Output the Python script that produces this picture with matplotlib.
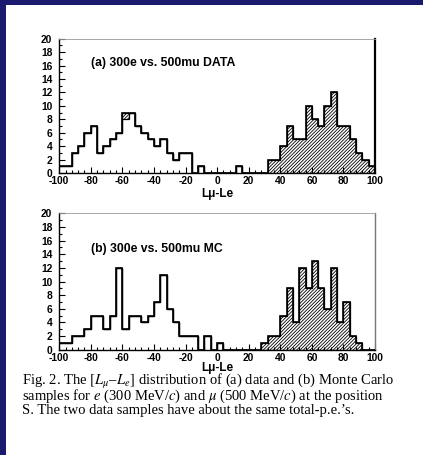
import numpy as np
import matplotlib.pyplot as plt
from matplotlib.patches import Rectangle
from matplotlib.ticker import MultipleLocator

plt.rcParams['font.family'] = 'Liberation Sans'
plt.rcParams['mathtext.fontset'] = 'stix'
plt.rcParams['hatch.linewidth'] = 0.6
plt.rcParams['axes.unicode_minus'] = False

# 50 bins of width 4 over [-100, 100]
edges = np.arange(-100, 101, 4)

# (a) data: e (open) and mu (hatched, stacked on e)
e_data = [1, 1, 3, 4, 6, 7, 3, 4, 5, 6,
          8, 9, 7, 6, 5, 4, 5, 3, 2, 3,
          3, 0, 1, 0, 0, 0, 0, 0, 1, 0,
          0, 0, 0, 0, 0, 0, 0, 0, 0, 0,
          0, 0, 0, 0, 0, 0, 0, 0, 0, 0]
mu_data = [0, 0, 0, 0, 0, 0, 0, 0, 0, 0,
           1, 0, 0, 0, 0, 0, 0, 0, 0, 0,
           0, 0, 0, 0, 0, 0, 0, 0, 0, 0,
           0, 0, 0, 2, 2, 4, 7, 5, 5, 10,
           8, 7, 10, 12, 7, 7, 5, 3, 2, 1]

# (b) Monte Carlo
e_mc = [1, 1, 2, 2, 3, 5, 5, 3, 5, 12,
        3, 5, 5, 4, 5, 7, 11, 6, 4, 2,
        2, 2, 0, 2, 0, 1, 0, 0, 0, 0,
        0, 0, 0, 0, 0, 0, 0, 0, 0, 0,
        0, 0, 0, 0, 0, 0, 0, 0, 0, 0]
mu_mc = [0, 0, 0, 0, 0, 0, 0, 0, 0, 0,
         0, 0, 0, 0, 0, 0, 0, 0, 0, 0,
         0, 0, 0, 0, 0, 0, 0, 0, 0, 0,
         0, 0, 1, 2, 2, 5, 9, 4, 12, 9,
         13, 9, 6, 12, 4, 7, 2, 1, 0, 0]

panel_labels = ['(a) 300e vs. 500mu DATA', '(b) 300e vs. 500mu MC']
xlabel = 'L\u03bc-Le'

caption = ["Fig. 2. The $[L_{\\mu}$\u2013$L_e]$ distribution of (a) data and (b) Monte Carlo",
           "samples for $e$ (300 MeV/$c$) and $\\mu$ (500 MeV/$c$) at the position",
           "S. The two data samples have about the same total-p.e.\u2019s."]

fig = plt.figure(figsize=(4.23, 4.55), dpi=100)
fig.patch.set_facecolor('#1a1a6e')
fig.add_artist(Rectangle((5.5 / 423, 0), 1, 1 - 5 / 455, transform=fig.transFigure,
                         facecolor='white', edgecolor='none', zorder=0))

positions = [[0.140, 0.6198, 0.7465, 0.2952],
             [0.140, 0.2314, 0.7465, 0.2998]]
label_y = [16.4, 14.7]
xlabel_y = [-0.155, -0.135]
right_spine = [('black', 1.6), ('#777777', 1.0)]

for k, (e, mu) in enumerate([(e_data, mu_data), (e_mc, mu_mc)]):
    ax = fig.add_axes(positions[k])
    e = np.array(e)
    mu = np.array(mu)
    ax.stairs(e + mu, edges, baseline=e, fill=True, facecolor='white',
              edgecolor='black', hatch='//////////', lw=0.9)
    ax.stairs(e + mu, edges, baseline=0, color='black', lw=1.2)

    ax.set_xlim(-100, 100)
    ax.set_ylim(0, 20)
    ax.set_xticks(np.arange(-100, 101, 20))
    ax.set_yticks(np.arange(0, 21, 2))
    ax.xaxis.set_minor_locator(MultipleLocator(4))
    ax.yaxis.set_minor_locator(MultipleLocator(1))
    ax.tick_params(which='both', direction='in', labelsize=7.4, width=0.8)
    ax.tick_params(axis='x', pad=2.5)
    ax.tick_params(axis='y', pad=5)
    ax.tick_params(which='major', length=4)
    ax.tick_params(which='minor', length=2)
    for lbl in ax.get_xticklabels() + ax.get_yticklabels():
        lbl.set_fontweight('bold')

    ax.spines['top'].set_color('#9a9a9a')
    ax.spines['top'].set_linewidth(0.6)
    ax.spines['right'].set_color(right_spine[k][0])
    ax.spines['right'].set_linewidth(right_spine[k][1])
    ax.spines['left'].set_linewidth(1.0)
    ax.spines['bottom'].set_linewidth(1.0)

    ax.text(-80, label_y[k], panel_labels[k], fontsize=8.8, fontweight='bold', va='center')
    ax.set_xlabel(xlabel, fontsize=8.5, fontweight='bold', va='center')
    ax.xaxis.set_label_coords(0.5, xlabel_y[k])

for i, line in enumerate(caption):
    fig.text(0.0513, 0.1615 - i * 0.0318, line, family='Liberation Serif',
             fontsize=10.5, va='center')

fig.savefig('out.png', dpi=100, facecolor=fig.get_facecolor())
